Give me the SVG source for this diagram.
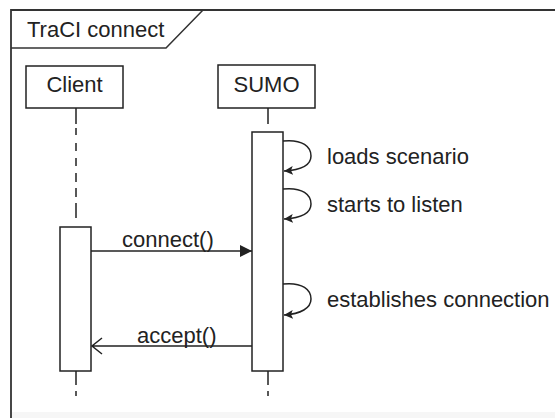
<svg xmlns="http://www.w3.org/2000/svg" width="555" height="418" viewBox="0 0 555 418">
  <defs>
    <style>
      .t { font-family: "Liberation Sans", Arial, sans-serif; font-size: 22px; fill: #222; }
      .box { fill: #fff; stroke: #222; stroke-width: 1.5; }
      .life { fill: none; stroke: #222; stroke-width: 1.5; }
      .msg { fill: none; stroke: #222; stroke-width: 1.5; }
    </style>
    <marker id="filled" markerWidth="12" markerHeight="12" refX="10" refY="5" orient="auto" markerUnits="userSpaceOnUse" viewBox="0 0 10 10">
      <path d="M0,0 L10,5 L0,10 Z" fill="#222"/>
    </marker>
    <marker id="small" markerWidth="9" markerHeight="9" refX="9" refY="4.5" orient="auto" markerUnits="userSpaceOnUse" viewBox="0 0 9 9">
      <path d="M0,0 L9,4.5 L0,9 L2,4.5 Z" fill="#222"/>
    </marker>
  </defs>
  <rect x="0" y="0" width="555" height="418" fill="#fff"/>
  <rect x="12" y="412" width="543" height="6" fill="#f6f6f6"/>

  <g id="frame">
    <path d="M11,418 L11,10 L555,10" fill="none" stroke="#333" stroke-width="1.8"/>
    <path d="M11,48 L166,48 L203,10" fill="none" stroke="#333" stroke-width="1.5"/>
    <text class="t" x="27" y="37">TraCI connect</text>
  </g>

  <g id="client">
    <rect class="box" x="26" y="66" width="97" height="42"/>
    <text class="t" x="74.5" y="92" text-anchor="middle">Client</text>
    <path class="life" d="M76,108 V124 M76,128 V135 M76,143 V151 M76,158 V166 M76,173 V182 M76,188 V197 M76,203 V218 M76,371 V385 M76,391 V396"/>
    <rect class="box" x="60" y="227" width="31" height="144"/>
  </g>

  <g id="sumo">
    <rect class="box" x="218" y="65" width="97" height="43"/>
    <text class="t" x="266.5" y="92" text-anchor="middle">SUMO</text>
    <path class="life" d="M268,108 V124 M268,371 V385 M268,391 V396"/>
    <rect class="box" x="252" y="132" width="31" height="239"/>
  </g>

  <g id="connectors">
    <line class="msg" x1="91" y1="251" x2="252" y2="251" marker-end="url(#filled)"/>
    <path class="msg" d="M252,346 L92,346 M102,338 L92,346 L102,354"/>
    <path class="msg" d="M283,141 C303,139 311,147 311,156 C311,165 301,170 284,171" marker-end="url(#small)"/>
    <path class="msg" d="M283,189 C303,187 311,195 311,204 C311,213 301,218 284,219" marker-end="url(#small)"/>
    <path class="msg" d="M283,284 C303,282 311,290 311,299 C311,308 301,314 284,315" marker-end="url(#small)"/>
  </g>

  <g id="labels">
    <text class="t" x="122" y="247">connect()</text>
    <text class="t" x="137" y="343">accept()</text>
    <text class="t" x="327" y="164">loads scenario</text>
    <text class="t" x="327" y="212">starts to listen</text>
    <text class="t" x="327" y="307">establishes connection</text>
  </g>
</svg>
